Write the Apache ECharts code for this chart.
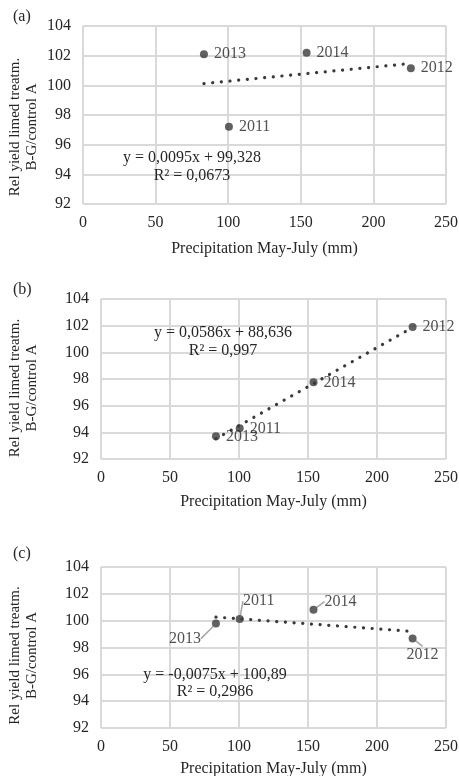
<!DOCTYPE html>
<html>
<head>
<meta charset="utf-8">
<script src="https://cdn.jsdelivr.net/npm/echarts@6/dist/echarts.min.js"></script>
<style>
  html, body { margin: 0; padding: 0; background: #fff; }
  #chart { width: 459px; height: 776px; }
</style>
</head>
<body>
<div id="chart"></div>
<script>
// Precipitation May–July (mm) per year
const years = ['2011', '2012', '2013', '2014'];
const precipitation = [100.5, 225.8, 83.3, 154.0];

// Relative yield, limed treatment B-G vs control A (%), per panel
const yieldA = [97.2, 101.15, 102.1, 102.2];
const yieldB = [94.3, 101.9, 93.7, 97.75];
const yieldC = [100.12, 98.68, 99.78, 100.82];

// Linear trend lines: slope, intercept, R²
const trendA = { slope: 0.0095, intercept: 99.328, r2: '0,0673', eq: 'y = 0,0095x + 99,328' };
const trendB = { slope: 0.0586, intercept: 88.636, r2: '0,997', eq: 'y = 0,0586x + 88,636' };
const trendC = { slope: -0.0075, intercept: 100.89, r2: '0,2986', eq: 'y = -0,0075x + 100,89' };

const panelLetters = ['(a)', '(b)', '(c)'];
const xTicks = [0, 50, 100, 150, 200, 250];
const yTicks = [92, 94, 96, 98, 100, 102, 104];

const FONT = '"Liberation Serif", "Times New Roman", serif';
const FS = 16;
const TEXT = '#262626';
const GRID = '#d9d9d9';
const MARK = '#3a3a3a';

const grids = [
  { left: 83, right: 13, top: 26, height: 178, outerBoundsMode: 'none' },
  { left: 101, right: 13, top: 299, height: 160, outerBoundsMode: 'none' },
  { left: 101, right: 13, top: 567, height: 161, outerBoundsMode: 'none' }
];
const xNameGaps = [37, 35, 33];
const yNameGaps = [42, 60, 60];
// y-axis titles sit a little below the plot centre
const yNameShift = [24, 18, 16];

function points(ys) {
  return precipitation.map((x, i) => ({ value: [x, ys[i]], name: years[i] }));
}
function trendPoints(t) {
  const x0 = Math.min.apply(null, precipitation);
  const x1 = Math.max.apply(null, precipitation);
  return [[x0, t.slope * x0 + t.intercept], [x1, t.slope * x1 + t.intercept]];
}

const xAxes = grids.map((g, i) => ({
  type: 'value', gridIndex: i, min: xTicks[0], max: xTicks[xTicks.length - 1], interval: 50,
  name: 'Precipitation May-July (mm)', nameLocation: 'middle', nameGap: xNameGaps[i],
  nameMoveOverlap: false,
  nameTextStyle: { fontFamily: FONT, fontSize: FS, color: TEXT },
  axisLine: { show: false }, axisTick: { show: false },
  axisLabel: { fontFamily: FONT, fontSize: FS, color: TEXT, margin: 11 },
  splitLine: { show: true, lineStyle: { color: GRID, width: 2 } }
}));
const yAxes = grids.map((g, i) => ({
  type: 'value', gridIndex: i, min: yTicks[0], max: yTicks[yTicks.length - 1], interval: 2,
  name: 'Rel yield limed treatm.\nB-G/control A', nameLocation: 'middle', nameGap: yNameGaps[i],
  nameMoveOverlap: false,
  nameTextStyle: { fontFamily: FONT, fontSize: 15, color: TEXT, lineHeight: 17,
    padding: [0, yNameShift[i], 0, 0] },
  axisLine: { show: false }, axisTick: { show: false },
  axisLabel: { fontFamily: FONT, fontSize: FS, color: TEXT, margin: 12 },
  splitLine: { show: true, lineStyle: { color: GRID, width: 2 } }
}));

const labelBase = { show: true, formatter: '{b}', fontFamily: FONT, fontSize: FS, color: TEXT };

// Label offsets (label centre relative to the point) for the third panel
const offsetsC = { '2011': [19, -18], '2012': [10, 16], '2013': [-31, 15], '2014': [27, -8] };

function trendSeries(i, t) {
  return {
    type: 'line', xAxisIndex: i, yAxisIndex: i, data: trendPoints(t),
    symbol: 'none', silent: true, z: 2,
    lineStyle: { color: MARK, width: 3.2, type: [0.1, 8.6], cap: 'round' }
  };
}
function scatterSeries(i, ys, extra) {
  return Object.assign({
    type: 'scatter', xAxisIndex: i, yAxisIndex: i, data: points(ys),
    symbol: 'circle', symbolSize: 8, z: 3,
    itemStyle: { color: MARK },
    label: Object.assign({ position: 'right', distance: 6 }, labelBase)
  }, extra || {});
}

const series = [
  trendSeries(0, trendA),
  scatterSeries(0, yieldA),
  trendSeries(1, trendB),
  scatterSeries(1, yieldB),
  trendSeries(2, trendC),
  scatterSeries(2, yieldC, {
    label: Object.assign({ position: 'inside' }, labelBase),
    labelLine: { show: true, lineStyle: { color: '#a6a6a6', width: 1.5 } },
    labelLayout: function (p) {
      const o = offsetsC[years[p.dataIndex]];
      return { dx: o[0], dy: o[1] };
    }
  })
];

// Equation texts and panel letters
const eqPos = [
  { x: 192, y: 158, y2: 176 },
  { x: 223, y: 333, y2: 351 },
  { x: 215, y: 675, y2: 692 }
];
const trends = [trendA, trendB, trendC];
const graphic = [];
trends.forEach((t, i) => {
  graphic.push({ type: 'text', x: eqPos[i].x, y: eqPos[i].y, z: 100,
    style: { text: t.eq, font: FS + 'px ' + FONT, fill: TEXT, align: 'center', verticalAlign: 'middle' } });
  graphic.push({ type: 'text', x: eqPos[i].x, y: eqPos[i].y2, z: 100,
    style: { text: 'R² = ' + t.r2, font: FS + 'px ' + FONT, fill: TEXT, align: 'center', verticalAlign: 'middle' } });
});
const letterY = [17, 290, 554];
panelLetters.forEach((s, i) => {
  graphic.push({ type: 'text', x: 13, y: letterY[i], z: 100,
    style: { text: s, font: FS + 'px ' + FONT, fill: TEXT, align: 'left', verticalAlign: 'middle' } });
});

const chart = echarts.init(document.getElementById('chart'), null, { renderer: 'canvas' });
chart.setOption({
  animation: false,
  backgroundColor: '#fff',
  grid: grids,
  xAxis: xAxes,
  yAxis: yAxes,
  series: series,
  graphic: graphic
});
</script>
</body>
</html>
